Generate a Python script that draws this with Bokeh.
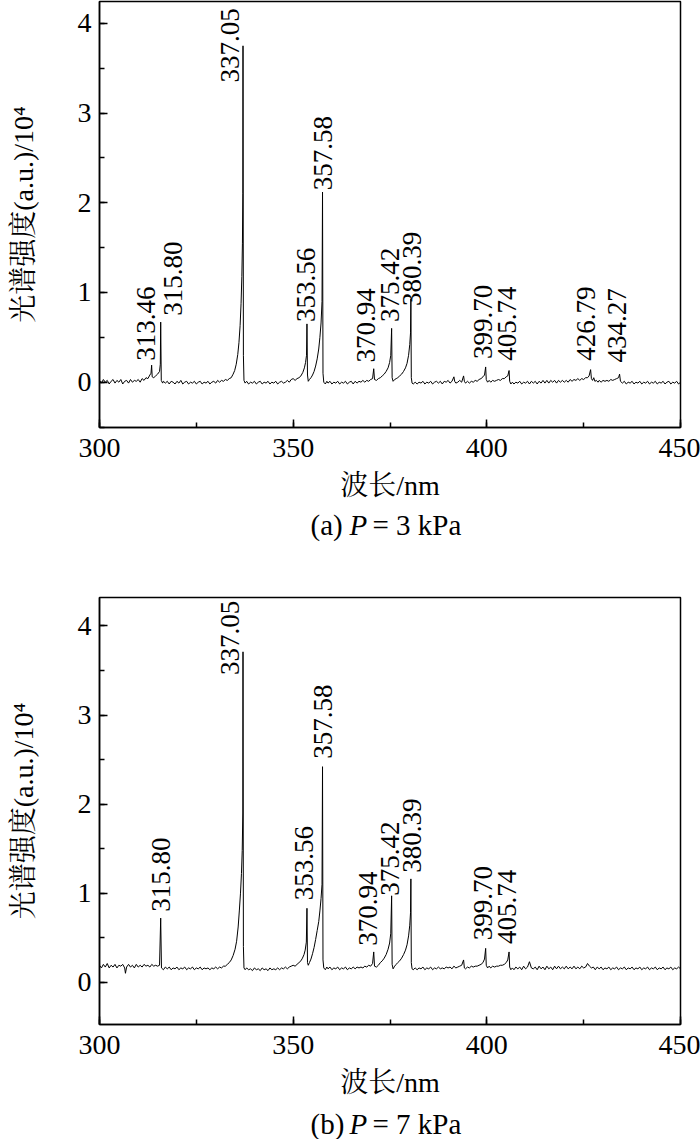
from math import pi
from bokeh.plotting import figure
from bokeh.models import Range1d, SingleIntervalTicker
from bokeh.layouts import column
from bokeh.core.properties import value
from bokeh.embed import file_html
from bokeh.resources import INLINE

# ---------------- data: (wavelength nm, intensity /1e4) ----------------
spec_a = [
    (300.0, 0.02), (300.5, -0.01), (301.0, 0.03), (301.5, 0.00), (302.0, 0.02), (302.5, -0.02), (303.0, 0.01), (303.5, 0.03),
    (304.0, -0.01), (304.5, 0.02), (305.0, 0.00), (305.5, 0.03), (306.0, -0.02), (306.5, 0.01), (307.0, 0.02), (307.5, -0.01),
    (308.0, 0.03), (308.5, 0.00), (309.0, 0.02), (309.5, 0.01), (310.0, 0.03), (310.5, 0.00), (311.0, 0.04), (311.5, 0.02),
    (312.0, 0.05), (312.5, 0.04), (313.0, 0.08), (313.3, 0.10), (313.46, 0.19), (313.6, 0.06), (314.0, 0.05), (314.5, 0.07),
    (315.0, 0.09), (315.5, 0.12), (315.7, 0.20), (315.8, 0.67), (315.95, 0.02), (316.3, -0.01), (316.5, 0.01), (317.0, -0.01),
    (317.5, 0.01), (318.0, -0.02), (318.5, 0.01), (319.0, 0.00), (319.5, -0.02), (320.0, 0.01), (320.5, -0.01), (321.0, 0.02),
    (321.5, -0.02), (322.0, 0.00), (322.5, 0.01), (323.0, -0.02), (323.5, 0.00), (324.0, -0.01), (324.5, 0.01), (325.0, -0.02),
    (325.5, 0.00), (326.0, 0.01), (326.5, -0.02), (327.0, 0.00), (327.5, -0.01), (328.0, 0.01), (328.5, -0.02), (329.0, 0.00),
    (329.5, 0.01), (330.0, -0.01), (330.5, 0.02), (331.0, 0.00), (331.5, 0.02), (332.0, 0.01), (332.5, 0.03), (333.0, 0.02),
    (333.5, 0.04), (334.0, 0.05), (334.5, 0.09), (334.9, 0.13), (335.3, 0.20), (335.7, 0.31), (336.0, 0.44), (336.3, 0.63),
    (336.55, 0.88), (336.75, 1.18), (336.9, 1.55), (337.0, 2.10), (337.05, 3.75), (337.15, 0.30), (337.3, 0.02), (337.6, -0.01),
    (338.0, 0.01), (338.5, -0.02), (339.0, 0.00), (339.5, -0.01), (340.0, 0.01), (340.5, -0.02), (341.0, 0.00), (341.5, 0.01),
    (342.0, -0.02), (342.5, 0.00), (343.0, -0.01), (343.5, 0.01), (344.0, -0.02), (344.5, 0.00), (345.0, -0.01), (345.5, 0.01),
    (346.0, -0.02), (346.5, 0.00), (347.0, 0.01), (347.5, -0.01), (348.0, 0.00), (348.5, 0.02), (349.0, 0.00), (349.5, 0.03),
    (350.0, 0.04), (350.5, 0.02), (351.0, 0.04), (351.5, 0.05), (352.0, 0.07), (352.5, 0.11), (352.9, 0.16), (353.2, 0.22),
    (353.45, 0.30), (353.56, 0.65), (353.7, 0.08), (353.9, 0.01), (354.2, 0.03), (354.6, 0.05), (355.0, 0.08), (355.4, 0.12),
    (355.8, 0.18), (356.2, 0.26), (356.6, 0.37), (356.9, 0.50), (357.2, 0.66), (357.45, 0.90), (357.58, 2.12), (357.7, 0.10),
    (357.9, 0.00), (358.3, -0.02), (358.7, 0.01), (359.0, -0.01), (359.5, 0.01), (360.0, -0.02), (360.5, 0.00), (361.0, -0.01),
    (361.5, 0.01), (362.0, -0.02), (362.5, 0.00), (363.0, -0.01), (363.5, 0.01), (364.0, -0.02), (364.5, 0.00), (365.0, 0.01),
    (365.5, -0.02), (366.0, 0.01), (366.5, -0.01), (367.0, 0.01), (367.5, 0.00), (368.0, 0.02), (368.5, 0.00), (369.0, 0.02),
    (369.5, 0.01), (370.0, 0.03), (370.5, 0.04), (370.8, 0.15), (371.0, 0.03), (371.5, 0.02), (372.0, 0.04), (372.5, 0.05),
    (373.0, 0.07), (373.5, 0.09), (374.0, 0.12), (374.5, 0.16), (374.9, 0.22), (375.2, 0.30), (375.42, 0.60), (375.55, 0.05),
    (375.8, 0.01), (376.2, 0.03), (376.6, 0.04), (377.0, 0.05), (377.5, 0.07), (378.0, 0.09), (378.5, 0.12), (379.0, 0.16),
    (379.4, 0.21), (379.8, 0.30), (380.1, 0.42), (380.3, 0.55), (380.39, 0.93), (380.5, 0.05), (380.7, -0.01), (381.0, -0.02),
    (381.5, 0.00), (382.0, -0.02), (382.5, 0.00), (383.0, -0.01), (383.5, 0.01), (384.0, -0.02), (384.5, 0.00), (385.0, -0.01),
    (385.5, 0.01), (386.0, -0.02), (386.5, 0.00), (387.0, 0.01), (387.5, -0.01), (388.0, 0.01), (388.5, -0.02), (389.0, 0.01),
    (389.5, 0.00), (390.0, 0.02), (390.5, -0.01), (391.0, 0.01), (391.5, 0.06), (391.7, 0.01), (392.0, -0.01), (392.5, 0.00),
    (393.0, 0.02), (393.5, 0.00), (394.0, 0.07), (394.2, 0.01), (394.5, -0.01), (395.0, 0.01), (395.5, -0.01), (396.0, 0.01),
    (396.5, 0.00), (397.0, 0.02), (397.5, 0.01), (398.0, 0.03), (398.5, 0.04), (399.0, 0.06), (399.4, 0.08), (399.7, 0.17),
    (399.85, 0.03), (400.2, 0.00), (400.6, 0.02), (401.0, 0.00), (401.5, 0.02), (402.0, 0.01), (402.5, 0.02), (403.0, 0.03),
    (403.5, 0.02), (404.0, 0.04), (404.5, 0.04), (405.0, 0.06), (405.4, 0.07), (405.74, 0.13), (405.9, 0.01), (406.2, -0.02),
    (406.6, 0.00), (407.0, -0.02), (407.5, 0.00), (408.0, -0.01), (408.5, 0.01), (409.0, -0.02), (409.5, 0.00), (410.0, -0.01),
    (410.5, 0.01), (411.0, -0.02), (411.5, 0.01), (412.0, -0.01), (412.5, 0.01), (413.0, -0.02), (413.5, 0.01), (414.0, -0.01),
    (414.5, 0.02), (415.0, -0.01), (415.5, 0.02), (416.0, -0.01), (416.5, 0.02), (417.0, 0.00), (417.5, 0.02), (418.0, -0.01),
    (418.5, 0.02), (419.0, 0.00), (419.5, 0.02), (420.0, 0.00), (420.5, 0.02), (421.0, 0.00), (421.5, 0.03), (422.0, 0.01),
    (422.5, 0.03), (423.0, 0.02), (423.5, 0.04), (424.0, 0.02), (424.5, 0.04), (425.0, 0.03), (425.5, 0.05), (426.0, 0.05),
    (426.4, 0.07), (426.79, 0.14), (427.0, 0.04), (427.3, 0.02), (427.6, 0.05), (427.9, 0.01), (428.3, 0.02), (428.7, 0.00),
    (429.0, 0.02), (429.5, 0.00), (430.0, 0.02), (430.5, 0.01), (431.0, 0.02), (431.5, 0.01), (432.0, 0.03), (432.5, 0.02),
    (433.0, 0.03), (433.5, 0.04), (434.0, 0.05), (434.27, 0.09), (434.5, 0.01), (435.0, -0.01), (435.5, 0.01), (436.0, -0.02),
    (436.5, 0.00), (437.0, -0.01), (437.5, 0.01), (438.0, -0.02), (438.5, 0.00), (439.0, -0.01), (439.5, 0.01), (440.0, -0.02),
    (440.5, 0.00), (441.0, -0.01), (441.5, 0.01), (442.0, -0.02), (442.5, 0.00), (443.0, -0.01), (443.5, 0.01), (444.0, -0.02),
    (444.5, 0.00), (445.0, -0.01), (445.5, 0.01), (446.0, -0.02), (446.5, 0.00), (447.0, 0.01), (447.5, -0.02), (448.0, 0.00),
    (448.5, -0.01), (449.0, 0.01), (449.5, -0.02), (450.0, 0.00),
]

spec_b = [
    (300.0, 0.19), (300.5, 0.16), (301.0, 0.20), (301.5, 0.17), (302.0, 0.21), (302.5, 0.16), (303.0, 0.19), (303.5, 0.17),
    (304.0, 0.20), (304.5, 0.16), (305.0, 0.19), (305.5, 0.18), (306.0, 0.20), (306.5, 0.16), (306.7, 0.10), (307.0, 0.17),
    (307.5, 0.20), (308.0, 0.17), (308.5, 0.19), (309.0, 0.16), (309.5, 0.20), (310.0, 0.17), (310.5, 0.19), (311.0, 0.17),
    (311.5, 0.20), (312.0, 0.18), (312.5, 0.19), (313.0, 0.17), (313.5, 0.20), (314.0, 0.18), (314.5, 0.19), (315.0, 0.18),
    (315.5, 0.19), (315.8, 0.72), (316.0, 0.16), (316.5, 0.14), (317.0, 0.17), (317.5, 0.15), (318.0, 0.17), (318.5, 0.14),
    (319.0, 0.16), (319.5, 0.15), (320.0, 0.17), (320.5, 0.14), (321.0, 0.16), (321.5, 0.15), (322.0, 0.17), (322.5, 0.14),
    (323.0, 0.16), (323.5, 0.15), (324.0, 0.17), (324.5, 0.14), (325.0, 0.16), (325.5, 0.15), (326.0, 0.17), (326.5, 0.14),
    (327.0, 0.16), (327.5, 0.15), (328.0, 0.16), (328.5, 0.14), (329.0, 0.16), (329.5, 0.15), (330.0, 0.17), (330.5, 0.15),
    (331.0, 0.17), (331.5, 0.16), (332.0, 0.18), (332.5, 0.18), (333.0, 0.20), (333.5, 0.22), (334.0, 0.25), (334.5, 0.30),
    (335.0, 0.37), (335.4, 0.46), (335.8, 0.62), (336.1, 0.80), (336.4, 1.00), (336.65, 1.22), (336.85, 1.48), (337.0, 1.90),
    (337.05, 3.71), (337.15, 0.40), (337.3, 0.16), (337.6, 0.14), (338.0, 0.16), (338.5, 0.14), (339.0, 0.15), (339.5, 0.13),
    (340.0, 0.16), (340.5, 0.14), (341.0, 0.15), (341.5, 0.13), (342.0, 0.16), (342.5, 0.14), (343.0, 0.15), (343.5, 0.13),
    (344.0, 0.16), (344.5, 0.14), (345.0, 0.15), (345.5, 0.14), (346.0, 0.16), (346.5, 0.14), (347.0, 0.16), (347.5, 0.15),
    (348.0, 0.17), (348.5, 0.15), (349.0, 0.17), (349.5, 0.18), (350.0, 0.19), (350.5, 0.18), (351.0, 0.20), (351.5, 0.22),
    (352.0, 0.24), (352.4, 0.27), (352.8, 0.31), (353.1, 0.36), (353.4, 0.45), (353.56, 0.83), (353.7, 0.22), (353.9, 0.19),
    (354.2, 0.22), (354.6, 0.26), (355.0, 0.32), (355.4, 0.39), (355.8, 0.48), (356.2, 0.58), (356.6, 0.68), (356.9, 0.80),
    (357.2, 0.94), (357.45, 1.10), (357.58, 2.42), (357.7, 0.25), (357.9, 0.16), (358.3, 0.14), (358.7, 0.17), (359.0, 0.15),
    (359.5, 0.17), (360.0, 0.14), (360.5, 0.16), (361.0, 0.15), (361.5, 0.17), (362.0, 0.14), (362.5, 0.16), (363.0, 0.15),
    (363.5, 0.17), (364.0, 0.14), (364.5, 0.16), (365.0, 0.15), (365.5, 0.17), (366.0, 0.15), (366.5, 0.17), (367.0, 0.16),
    (367.5, 0.17), (368.0, 0.16), (368.5, 0.18), (369.0, 0.17), (369.5, 0.19), (370.0, 0.18), (370.5, 0.21), (370.8, 0.34),
    (371.0, 0.18), (371.5, 0.17), (372.0, 0.19), (372.5, 0.22), (373.0, 0.24), (373.5, 0.27), (374.0, 0.31), (374.5, 0.37),
    (374.9, 0.44), (375.2, 0.55), (375.42, 0.97), (375.55, 0.20), (375.8, 0.15), (376.2, 0.18), (376.6, 0.20), (377.0, 0.22),
    (377.5, 0.24), (378.0, 0.27), (378.5, 0.31), (379.0, 0.36), (379.4, 0.42), (379.8, 0.52), (380.1, 0.64), (380.3, 0.78),
    (380.39, 1.16), (380.5, 0.22), (380.7, 0.15), (381.0, 0.14), (381.5, 0.16), (382.0, 0.14), (382.5, 0.16), (383.0, 0.15),
    (383.5, 0.17), (384.0, 0.14), (384.5, 0.16), (385.0, 0.15), (385.5, 0.17), (386.0, 0.14), (386.5, 0.16), (387.0, 0.15),
    (387.5, 0.17), (388.0, 0.15), (388.5, 0.16), (389.0, 0.15), (389.5, 0.17), (390.0, 0.16), (390.5, 0.17), (391.0, 0.15),
    (391.5, 0.18), (392.0, 0.16), (392.5, 0.17), (393.0, 0.18), (393.5, 0.19), (394.0, 0.25), (394.2, 0.16), (394.5, 0.15),
    (395.0, 0.17), (395.5, 0.16), (396.0, 0.18), (396.5, 0.17), (397.0, 0.18), (397.5, 0.18), (398.0, 0.19), (398.5, 0.20),
    (399.0, 0.22), (399.4, 0.26), (399.7, 0.38), (399.85, 0.19), (400.2, 0.16), (400.6, 0.18), (401.0, 0.16), (401.5, 0.18),
    (402.0, 0.17), (402.5, 0.18), (403.0, 0.18), (403.5, 0.19), (404.0, 0.19), (404.5, 0.20), (405.0, 0.22), (405.4, 0.25),
    (405.74, 0.34), (405.9, 0.17), (406.2, 0.14), (406.6, 0.16), (407.0, 0.14), (407.5, 0.17), (408.0, 0.15), (408.5, 0.17),
    (409.0, 0.14), (409.5, 0.18), (410.0, 0.15), (410.5, 0.17), (411.0, 0.23), (411.5, 0.16), (412.0, 0.15), (412.5, 0.17),
    (413.0, 0.14), (413.5, 0.18), (414.0, 0.15), (414.5, 0.17), (415.0, 0.14), (415.5, 0.18), (416.0, 0.15), (416.5, 0.17),
    (417.0, 0.14), (417.5, 0.18), (418.0, 0.15), (418.5, 0.18), (419.0, 0.15), (419.5, 0.17), (420.0, 0.15), (420.5, 0.18),
    (421.0, 0.15), (421.5, 0.17), (422.0, 0.15), (422.5, 0.18), (423.0, 0.15), (423.5, 0.17), (424.0, 0.15), (424.5, 0.18),
    (425.0, 0.16), (425.5, 0.17), (426.0, 0.21), (426.5, 0.18), (427.0, 0.16), (427.5, 0.17), (428.0, 0.14), (428.5, 0.17),
    (429.0, 0.15), (429.5, 0.17), (430.0, 0.14), (430.5, 0.16), (431.0, 0.15), (431.5, 0.17), (432.0, 0.14), (432.5, 0.16),
    (433.0, 0.15), (433.5, 0.17), (434.0, 0.14), (434.5, 0.16), (435.0, 0.15), (435.5, 0.17), (436.0, 0.14), (436.5, 0.16),
    (437.0, 0.15), (437.5, 0.17), (438.0, 0.14), (438.5, 0.16), (439.0, 0.15), (439.5, 0.17), (440.0, 0.14), (440.5, 0.16),
    (441.0, 0.15), (441.5, 0.17), (442.0, 0.14), (442.5, 0.16), (443.0, 0.15), (443.5, 0.17), (444.0, 0.14), (444.5, 0.16),
    (445.0, 0.15), (445.5, 0.17), (446.0, 0.14), (446.5, 0.16), (447.0, 0.15), (447.5, 0.17), (448.0, 0.14), (448.5, 0.16),
    (449.0, 0.15), (449.5, 0.17), (450.0, 0.15),
]

wl_a = [p[0] for p in spec_a]
int_a = [p[1] for p in spec_a]
wl_b = [p[0] for p in spec_b]
int_b = [p[1] for p in spec_b]

# peak annotations (text) and where each rotated label starts (x centre, y bottom)
peaks_a = ["313.46", "315.80", "337.05", "353.56", "357.58", "370.94",
           "375.42", "380.39", "399.70", "405.74", "426.79", "434.27"]
lab_x_a = [312.1, 319.1, 333.8, 353.2, 357.8, 368.9, 375.1, 380.8, 398.9, 405.1, 425.5, 433.5]
lab_y_a = [0.24, 0.74, 3.34, 0.67, 2.14, 0.22, 0.67, 0.85, 0.26, 0.24, 0.24, 0.22]

peaks_b = ["315.80", "337.05", "353.56", "357.58", "370.94",
           "375.42", "380.39", "399.70", "405.74"]
lab_x_b = [316.0, 333.8, 352.7, 357.6, 369.2, 374.9, 380.8, 398.9, 405.3]
lab_y_b = [0.79, 3.45, 0.92, 2.51, 0.41, 0.97, 1.23, 0.47, 0.43]

captions = [("(a)", "P", "= 3 kPa"), ("(b)", "P", "= 7 kPa")]

SERIF = "Liberation Serif, Noto Serif CJK SC, Noto Sans CJK SC"
W = 700
FRAME_L, FRAME_R = 99, 680   # page x of the plot frame (left/right)


def make_panel(wl, inten, labels, lx, ly, y_lo, y_hi, b_top, frame_h, b_bot):
    p = figure(width=W, height=b_top + frame_h + b_bot,
               x_range=Range1d(300, 450), y_range=Range1d(y_lo, y_hi),
               output_backend="svg", toolbar_location=None,
               min_border_left=FRAME_L, min_border_right=W - FRAME_R,
               min_border_top=b_top, min_border_bottom=b_bot)
    p.background_fill_color = "white"
    p.border_fill_color = "white"
    p.outline_line_color = "black"
    p.outline_line_width = 1.5
    p.outline_line_alpha = 1.0
    p.xgrid.visible = False
    p.ygrid.visible = False

    p.xaxis.ticker = SingleIntervalTicker(interval=50, num_minor_ticks=2)
    p.yaxis.ticker = SingleIntervalTicker(interval=1, num_minor_ticks=2)
    p.xaxis.axis_label = "波长/nm"
    p.yaxis.axis_label = "光谱强度(a.u.)/10⁴"
    for ax in (p.xaxis[0], p.yaxis[0]):
        ax.axis_line_color = "black"
        ax.axis_line_width = 1.5
        ax.major_tick_line_color = "black"
        ax.minor_tick_line_color = "black"
        ax.major_tick_line_width = 1.5
        ax.minor_tick_line_width = 1.5
        ax.major_tick_in = 8
        ax.major_tick_out = 0
        ax.minor_tick_in = 5
        ax.minor_tick_out = 0
        ax.major_label_text_font = SERIF
        ax.major_label_text_font_size = "28px"
        ax.major_label_text_color = "black"
        ax.axis_label_text_font = SERIF
        ax.axis_label_text_font_size = "28px"
        ax.axis_label_text_font_style = "normal"
        ax.axis_label_text_color = "black"
    p.xaxis.major_label_standoff = 11
    p.xaxis.axis_label_standoff = 10
    p.yaxis.major_label_standoff = 8
    p.yaxis.axis_label_standoff = 36

    p.line(wl, inten, line_color="black", line_width=1)

    p.text(x=lx, y=ly, text=labels, angle=pi / 2,
           text_align="left", text_baseline="middle",
           text_font=value("Liberation Serif"), text_font_size=value("27px"),
           text_color="black")
    return p


def make_caption(parts, height, cy):
    # frame is aligned with the panel frames by the column layout, so use page x as data x
    c = figure(width=W, height=height, x_range=Range1d(FRAME_L, FRAME_R),
               y_range=Range1d(height, 0),
               output_backend="svg", toolbar_location=None,
               x_axis_type=None, y_axis_type=None,
               min_border_left=FRAME_L, min_border_right=W - FRAME_R,
               min_border_top=0, min_border_bottom=0)
    c.outline_line_color = None
    c.xgrid.visible = False
    c.ygrid.visible = False
    c.background_fill_color = "white"
    c.border_fill_color = "white"
    tag, sym, rest = parts
    common = dict(text_baseline="middle", text_align="left",
                  text_font=value("Liberation Serif"), text_font_size=value("29px"),
                  text_color="black")
    c.text(x=[310], y=[cy], text=[tag], **common)
    c.text(x=[349], y=[cy], text=[sym], text_font_style="italic", **common)
    c.text(x=[372], y=[cy], text=[rest], **common)
    return c


pa = make_panel(wl_a, int_a, peaks_a, lab_x_a, lab_y_a, -0.505, 4.244, 1, 426, 78)
ca = make_caption(captions[0], 78, 19)
pb = make_panel(wl_b, int_b, peaks_b, lab_x_b, lab_y_b, -0.475, 4.32, 14, 427, 78)
cb = make_caption(captions[1], 37, 21)

layout = column(pa, ca, pb, cb, spacing=0)
open("out.html", "w").write(file_html(layout, INLINE))
